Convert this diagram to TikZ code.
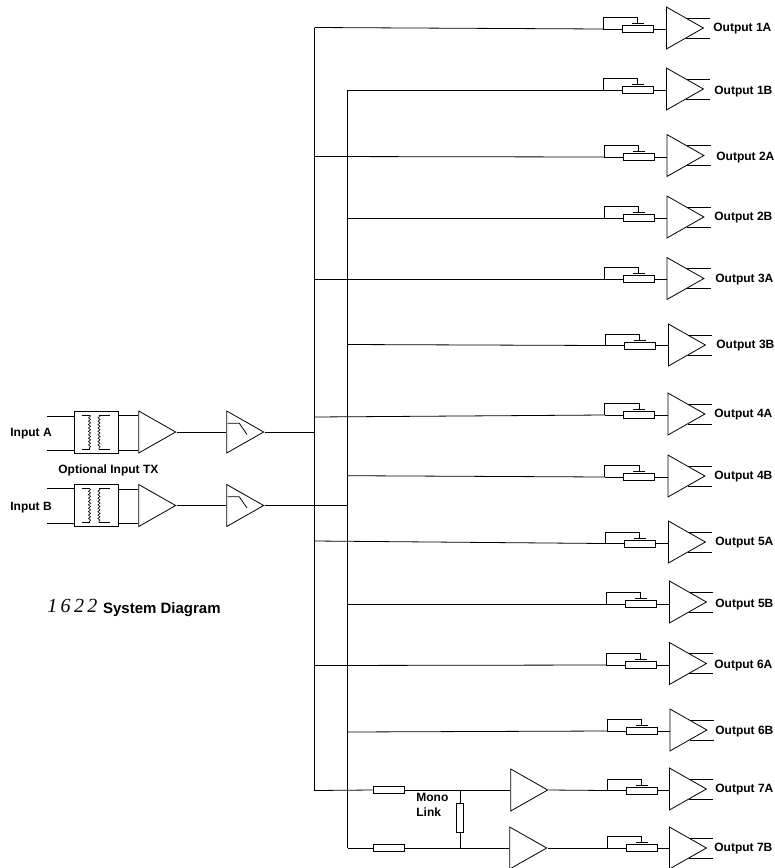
\documentclass[tikz,border=0pt]{standalone}
\usepackage{fontspec}
\setmainfont{Liberation Sans}
\newfontfamily\handfont{Liberation Serif}
\usetikzlibrary{shapes.geometric,decorations.pathmorphing}
\tikzset{
  lbl/.style={font=\fontsize{12}{15}\selectfont\bfseries, inner sep=0pt, anchor=base west},
  amp/.style={draw, isosceles triangle, isosceles triangle stretches, shape border rotate=0,
    minimum width=42pt, minimum height=37pt, inner sep=0pt, anchor=west, line width=0.8pt},
  res/.style={draw, rectangle, minimum width=31pt, minimum height=7pt, inner sep=0pt},
  link/.style={draw, rectangle, minimum width=7pt, minimum height=29pt, inner sep=0pt},
  tx/.style={draw, rectangle, minimum width=44pt, minimum height=42pt, inner sep=0pt},
  wdg/.style={decorate, decoration={snake, segment length=3.4pt, amplitude=1.1pt}}
}
\begin{document}
\begin{tikzpicture}[x=1pt, y=-1pt, line width=0.8pt]
  \useasboundingbox (0,0) rectangle (775,868);

  % the two busses
  \coordinate (busAtop) at (314.5,27.5);
  \coordinate (busAend) at (314.5,790.5);
  \coordinate (busBtop) at (347.5,90);
  \coordinate (busBend) at (347.5,848);
  \draw (busAtop) -- (busAend);
  \draw (busBtop) -- (busBend);

  % input stages
  \foreach \n/\t/\lo/\ly/\iy/\oy in {A/432/450.3/436.7/416/415.5, B/505.5/523.7/510.7/488.5/489} {
    \node[tx] (tx\n) at (96.3,\t) {};
    \node[amp] (in\n) at (138.3,\t) {};
    \node[amp] (hpf\n) at (226.3,\t) {};
    \coordinate (ia\n) at (47,\iy);
    \coordinate (ib\n) at (47,\lo);
    \coordinate (oa\n) at (118.3,\oy);
    \coordinate (ob\n) at (118.3,\lo);
    \draw (ia\n) -- (ia\n -| tx\n.west);
    \draw (ib\n) -- (ib\n -| tx\n.west);
    \draw (oa\n) -- (oa\n -| in\n.west);
    \draw (ob\n) -- (ob\n -| in\n.west);
    \draw (in\n.apex) -- (hpf\n.west);
    % transformer windings
    \draw[line width=0.6pt] (81.7,\t-17) -- (89.5,\t-17);
    \draw[line width=0.6pt, wdg] (89.5,\t-17) -- (89.5,\t+17);
    \draw[line width=0.6pt] (89.5,\t+17) -- (81.7,\t+17);
    \draw[line width=0.6pt] (110,\t-17) -- (99,\t-17);
    \draw[line width=0.6pt, wdg] (99,\t-17) -- (99,\t+17);
    \draw[line width=0.6pt] (99,\t+17) -- (110,\t+17);
    % filter slope
    \draw (227.7,\t-8.7) -- (239.3,\t-8.7) -- (247,\t+2.5);
    \node[lbl] (lab\n) at (10,\ly) {Input \n};
  }
  \draw (hpfA.apex) -- (busAtop |- hpfA.apex);
  \draw (hpfB.apex) -- (busBtop |- hpfB.apex);
  \node[lbl] (optlab) at (58,473.3) {Optional Input TX};

  \node[inner sep=0pt, anchor=base west, font=\handfont\itshape\fontsize{20}{20}\selectfont] (num) at (47,612.5) {1\,6\,2\,2};
  \node[inner sep=0pt, anchor=base west, font=\fontsize{15}{18}\selectfont\bfseries] (title) at (102.7,613.3) {System Diagram};

  % output rows
  \foreach \n/\lab/\ly/\pl/\ax/\ay/\lx/\lb in {
    1a/1A/29/622/666/28/713/31,
    1b/1B/90/622/666/89/714/94,
    2a/2A/157/623/666.5/155.5/716/160,
    2b/2B/218/623/666.5/217/714/220,
    3a/3A/279/623/666.5/278.5/715/282.7,
    3b/3B/345.5/624/668/345/716/348.7,
    4a/4A/415/623.5/667.5/414/714/417.7,
    4b/4B/477/623.5/667.5/476/714/479.5,
    5a/5A/543.5/624/668/542/715/545.7,
    5b/5B/604/625/669/602/715/607.7,
    6a/6A/665/625/669/663.5/714/668,
    6b/6B/731/626/669.5/730/715/734.3,
    7a/7A/790.5/626/669/789/715/792.7,
    7b/7B/848/626/669/848/714/851} {
    \node[res] (pot\n) at (\pl+15.5,\ly) {};
    \node[amp] (out\n) at (\ax,\ay) {};
    \coordinate (tap\n) at (\pl-19,\ly);
    \coordinate (wip\n) at (\pl+15.5,\ly-5.2);
    \draw (tap\n) -- (pot\n.west);
    \draw (pot\n.east) -- (out\n.west |- pot\n.east);
    \draw (tap\n) -- (\pl-19,\ly-11.5) -| (wip\n);
    \draw (\pl+9.5,\ly-5.2) -- (\pl+21.5,\ly-5.2);
    \coordinate (hi\n) at (\ax+44,\ay-10);
    \coordinate (lo\n) at (\ax+44,\ay+10);
    \draw (\ax+20,\ay-10) -- (hi\n);
    \draw (\ax+20,\ay+10) -- (lo\n);
    \node[lbl] (lab\n) at (\lx,\lb) {Output \lab};
  }

  % feeds from the busses
  \foreach \n/\bx/\sy in {1a/314.5/27.5, 1b/347.5/90, 2a/314.5/156.5, 2b/347.5/218,
    3a/314.5/279, 3b/347.5/344.5, 4a/314.5/417, 4b/347.5/475.7,
    5a/314.5/541, 5b/347.5/604, 6a/314.5/665.5, 6b/347.5/732} {
    \coordinate (feed\n) at (\bx,\sy);
    \draw (feed\n) -- (tap\n);
  }

  % mono link
  \node[res] (r7a) at (388.5,790) {};
  \node[res] (r7b) at (388.5,848) {};
  \node[link] (rlink) at (460.2,818) {};
  \node[amp] (amp7a) at (510.3,790) {};
  \node[amp] (amp7b) at (509.3,848) {};
  \coordinate (joina) at (460.2,790);
  \coordinate (joinb) at (460.2,848);
  \draw (busAend) -- (r7a.west);
  \draw (busBend) -- (r7b.west);
  \draw (r7a.east) -- (joina) -- (amp7a.west);
  \draw (r7b.east) -- (joinb) -- (amp7b.west);
  \draw (joina) -- (rlink.north);
  \draw (rlink.south) -- (joinb);
  \draw (amp7a.apex) -- (tap7a);
  \draw (amp7b.apex) -- (tap7b);
  \node[lbl, align=left, anchor=base west] (monolab) at (416,816) {Mono\\Link};
\end{tikzpicture}
\end{document}
